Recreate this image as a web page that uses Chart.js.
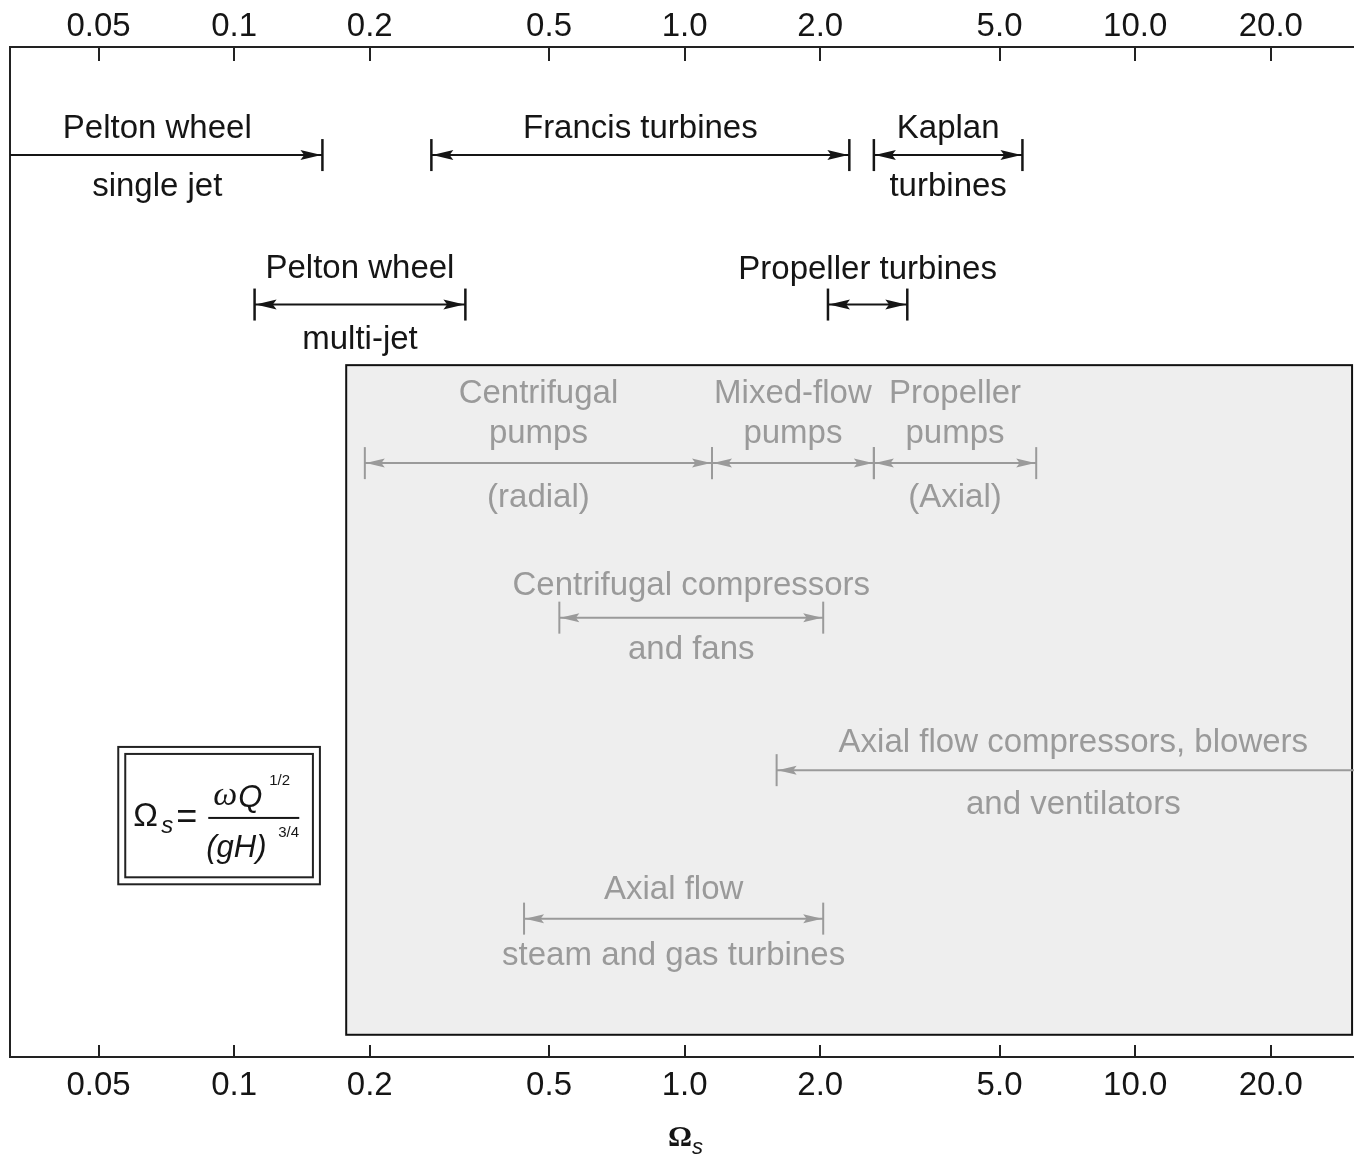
<!DOCTYPE html>
<html><head><meta charset="utf-8">
<script src="https://cdn.jsdelivr.net/npm/chart.js@4.4.1/dist/chart.umd.min.js"></script>
<style>html,body{margin:0;padding:0;background:#fff}#wrap{width:1354px;height:1155px;position:relative}</style>
</head><body><div id="wrap"><canvas id="c"></canvas></div>
<script>
// ---------------- data ----------------
const tickValues = [0.05, 0.1, 0.2, 0.5, 1, 2, 5, 10, 20];
const tickLabels = ['0.05', '0.1', '0.2', '0.5', '1.0', '2.0', '5.0', '10.0', '20.0'];
const axisMin = 0.0318, axisMax = 30.6;

const machines = [
  'Pelton wheel single jet', 'Francis turbines', 'Kaplan turbines',
  'Pelton wheel multi-jet', 'Propeller turbines',
  'Centrifugal pumps (radial)', 'Mixed-flow pumps', 'Propeller pumps (Axial)',
  'Centrifugal compressors and fans',
  'Axial flow compressors, blowers and ventilators',
  'Axial flow steam and gas turbines'
];
// specific speed range; null = continues past the edge of the axis
const rangeStart = [null, 0.274, 2.63, 0.111, 2.08, 0.195, 1.15, 2.63, 0.527, 1.60, 0.440];
const rangeEnd   = [0.157, 2.32, 5.62, 0.326, 3.12, 1.15, 2.63, 6.03, 2.03, null, 2.03];
const labelsAbove = [
  ['Pelton wheel'], ['Francis turbines'], ['Kaplan'],
  ['Pelton wheel'], ['Propeller turbines'],
  ['Centrifugal', 'pumps'], ['Mixed-flow', 'pumps'], ['Propeller', 'pumps'],
  ['Centrifugal compressors'], ['Axial flow compressors, blowers'], ['Axial flow']
];
const labelsBelow = [
  ['single jet'], [], ['turbines'],
  ['multi-jet'], [],
  ['(radial)'], [], ['(Axial)'],
  ['and fans'], ['and ventilators'], ['steam and gas turbines']
];
const machineKind = ['turbine', 'turbine', 'turbine', 'turbine', 'turbine',
  'driven', 'driven', 'driven', 'driven', 'driven', 'driven'];
// region of driven machines (pumps, compressors, fans) shaded in grey
const drivenRegion = [0.1773, 30.3];

// ---------------- layout ----------------
const rowLevel = [10.7, 10.7, 10.7, 25.5, 25.5, 41.2, 41.2, 41.2, 56.5, 71.6, 86.3];
const labelAnchor = [0.0675, null, null, null, null, null, null, null, null, 7.29, null];
const gapAbove = [29, 29, 29, 38, 37, 32, 32, 32, 34, 30, 31];
const gapBelow = [29, 0, 29, 33, 0, 32, 0, 32, 30, 32, 35];
const regionRows = [31.5, 97.8];
const formulaBox = {x: [0.0553, 0.155], y: [69.3, 82.9]};

const FONT = '"Liberation Sans", Arial, Helvetica, sans-serif';
const BLACK = '#151515', GREY = '#9a9a9a';

const datasets = machines.map((m, i) => ({
  label: m,
  data: [
    {x: rangeStart[i] === null ? axisMin / 4 : rangeStart[i], y: rowLevel[i]},
    {x: rangeEnd[i] === null ? axisMax * 4 : rangeEnd[i], y: rowLevel[i]}
  ],
  showLine: true,
  borderColor: machineKind[i] === 'turbine' ? BLACK : GREY,
  borderWidth: 2,
  pointRadius: 0,
  xAxisID: 'x', yAxisID: 'y'
}));

function arrowHead(ctx, tipX, y, dir, len, hw) {
  ctx.beginPath();
  ctx.moveTo(tipX, y);
  ctx.lineTo(tipX - dir * len, y - hw);
  ctx.lineTo(tipX - dir * len * 0.82, y);
  ctx.lineTo(tipX - dir * len, y + hw);
  ctx.closePath();
  ctx.fill();
}

const diagram = {
  id: 'diagram',
  beforeDatasetsDraw(chart) {
    const {ctx, scales: {x, y}} = chart;
    const l = x.getPixelForValue(drivenRegion[0]);
    const r = x.getPixelForValue(drivenRegion[1]);
    const t = y.getPixelForValue(regionRows[0]);
    const b = y.getPixelForValue(regionRows[1]);
    ctx.save();
    ctx.fillStyle = '#eeeeee';
    ctx.fillRect(l, t, r - l, b - t);
    ctx.strokeStyle = '#111';
    ctx.lineWidth = 2;
    ctx.strokeRect(l, t, r - l, b - t);
    ctx.restore();
  },
  afterDatasetsDraw(chart) {
    const {ctx, scales: {x, y}, chartArea} = chart;
    ctx.save();
    machines.forEach((m, i) => {
      const black = machineKind[i] === 'turbine';
      const col = black ? BLACK : GREY;
      const yl = y.getPixelForValue(rowLevel[i]);
      ctx.fillStyle = col; ctx.strokeStyle = col;
      const len = black ? 21 : 19, hw = black ? 5 : 4.5;
      ctx.lineWidth = black ? 2.5 : 2;
      let xs = chartArea.left, xe = chartArea.right;
      if (rangeStart[i] !== null) {
        xs = x.getPixelForValue(rangeStart[i]);
        arrowHead(ctx, xs + 1, yl, -1, len, hw);
        ctx.beginPath(); ctx.moveTo(xs, yl - 16); ctx.lineTo(xs, yl + 16); ctx.stroke();
      }
      if (rangeEnd[i] !== null) {
        xe = x.getPixelForValue(rangeEnd[i]);
        arrowHead(ctx, xe - 1, yl, 1, len, hw);
        ctx.beginPath(); ctx.moveTo(xe, yl - 16); ctx.lineTo(xe, yl + 16); ctx.stroke();
      }
      const cx = labelAnchor[i] !== null ? x.getPixelForValue(labelAnchor[i]) : (xs + xe) / 2;
      ctx.font = '33px ' + FONT;
      ctx.textAlign = 'center';
      ctx.textBaseline = 'alphabetic';
      const capHalf = 33 * 0.358;
      const above = labelsAbove[i];
      above.forEach((txt, k) => {
        const cy = yl - gapAbove[i] - (above.length - 1 - k) * 40;
        ctx.fillText(txt, cx, cy + capHalf);
      });
      labelsBelow[i].forEach((txt, k) => {
        const cy = yl + gapBelow[i] + k * 40;
        ctx.fillText(txt, cx, cy + capHalf);
      });
    });
    ctx.restore();
  },
  afterDraw(chart) {
    const {ctx, scales: {x, y, xTop}, chartArea} = chart;
    ctx.save();
    // inward ticks
    ctx.strokeStyle = '#222'; ctx.lineWidth = 2;
    tickValues.forEach(v => {
      const px = Math.round(x.getPixelForValue(v));
      ctx.beginPath(); ctx.moveTo(px, chartArea.bottom); ctx.lineTo(px, chartArea.bottom - 12); ctx.stroke();
      const pt = Math.round(xTop.getPixelForValue(v));
      ctx.beginPath(); ctx.moveTo(pt, chartArea.top); ctx.lineTo(pt, chartArea.top + 14); ctx.stroke();
    });
    // formula box
    const fl = x.getPixelForValue(formulaBox.x[0]), fr = x.getPixelForValue(formulaBox.x[1]);
    const ft = y.getPixelForValue(formulaBox.y[0]), fb = y.getPixelForValue(formulaBox.y[1]);
    ctx.fillStyle = '#fff';
    ctx.fillRect(fl, ft, fr - fl, fb - ft);
    ctx.strokeStyle = '#222'; ctx.lineWidth = 2;
    ctx.strokeRect(fl, ft, fr - fl, fb - ft);
    ctx.strokeRect(fl + 7, ft + 7, fr - fl - 14, fb - ft - 14);
    ctx.fillStyle = BLACK;
    ctx.textAlign = 'left'; ctx.textBaseline = 'alphabetic';
    const ox = fl, oy = ft;
    ctx.font = '33px ' + FONT;
    ctx.fillText('\u03A9', ox + 15, oy + 79);
    ctx.font = 'italic 24px ' + FONT;
    ctx.fillText('s', ox + 43, oy + 86);
    ctx.font = '36px ' + FONT;
    ctx.fillText('=', ox + 58, oy + 81);
    ctx.fillRect(ox + 90, oy + 70, 91, 2);
    ctx.font = 'italic 34px "Liberation Serif", "Times New Roman", serif';
    ctx.fillText('\u03C9', ox + 95, oy + 58);
    ctx.font = 'italic 31px ' + FONT;
    ctx.fillText('Q', ox + 120, oy + 60);
    ctx.font = '15px ' + FONT;
    ctx.fillText('1/2', ox + 151, oy + 38);
    ctx.font = 'italic 31px ' + FONT;
    ctx.fillText('(gH)', ox + 88, oy + 110);
    ctx.font = '15px ' + FONT;
    ctx.fillText('3/4', ox + 160, oy + 90);
    // axis title
    ctx.textAlign = 'left';
    ctx.font = 'bold 30px "Liberation Serif", "Times New Roman", serif';
    ctx.fillText('\u03A9', 668, 1146);
    ctx.font = 'italic 22px ' + FONT;
    ctx.fillText('s', 692, 1154);
    ctx.restore();
  }
};

const xCommon = {
  type: 'logarithmic', min: axisMin, max: axisMax,
  grid: {drawOnChartArea: false, drawTicks: false, color: 'rgba(0,0,0,0)'},
  border: {display: true, color: '#222', width: 2},
  afterBuildTicks: s => { s.ticks = tickValues.map(v => ({value: v})); },
};

new Chart(document.getElementById('c'), {
  type: 'scatter',
  data: {datasets},
  options: {
    responsive: true, maintainAspectRatio: false, animation: false,
    layout: {padding: 0},
    plugins: {legend: {display: false}, tooltip: {enabled: false}},
    events: [],
    scales: {
      x: Object.assign({}, xCommon, {
        position: 'bottom',
        ticks: {autoSkip: false, maxRotation: 0, padding: 9, color: BLACK,
          font: {family: FONT, size: 33}, callback: (v, i) => tickLabels[i]},
        afterFit: s => { s.height = 98; }
      }),
      xTop: Object.assign({}, xCommon, {
        position: 'top',
        ticks: {autoSkip: false, maxRotation: 0, padding: 0, color: BLACK,
          font: {family: FONT, size: 33}, callback: (v, i) => tickLabels[i]},
        afterFit: s => { s.height = 47; }
      }),
      y: {
        type: 'linear', min: 0, max: 100, reverse: true, position: 'left',
        ticks: {display: false},
        grid: {drawOnChartArea: false, drawTicks: false, color: 'rgba(0,0,0,0)'},
        border: {display: true, color: '#222', width: 2},
        afterFit: s => { s.width = 10; }
      }
    }
  },
  plugins: [diagram]
});
</script>
</body></html>
